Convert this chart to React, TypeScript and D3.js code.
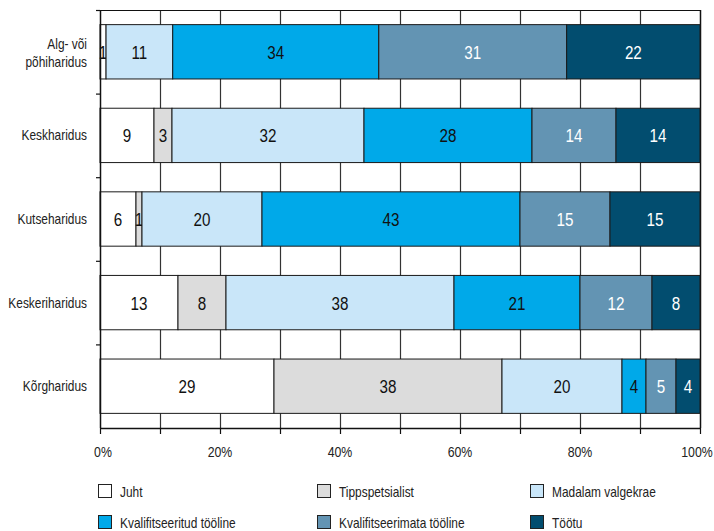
import React from "react";
import * as d3 from "d3";

const categories = ["Alg- või põhiharidus", "Keskharidus", "Kutseharidus", "Keskeriharidus", "Kõrgharidus"];
const seriesNames = [
  "Juht",
  "Tippspetsialist",
  "Madalam valgekrae",
  "Kvalifitseeritud tööline",
  "Kvalifitseerimata tööline",
  "Töötu",
];
const juht = [1, 9, 6, 13, 29];
const tippspetsialist = [0, 3, 1, 8, 38];
const madalam = [11, 32, 20, 38, 20];
const kvalifitseeritud = [34, 28, 43, 21, 4];
const kvalifitseerimata = [31, 14, 15, 12, 5];
const tootu = [22, 14, 15, 8, 4];
const xTicks = [0, 0.2, 0.4, 0.6, 0.8, 1];
const colors = ["#ffffff", "#dcdcdc", "#c9e6f9", "#00a9e9", "#6394b3", "#024d6f"];
const labelColors = ["#111", "#111", "#111", "#111", "#fff", "#fff"];

const FONT = "'Liberation Sans', Arial, sans-serif";

const W = 714;
const H = 531;
const margin = { top: 10, right: 14, bottom: 103, left: 100 };

// condensed text: the original uses a narrow face, so squeeze a regular one
const CText = ({ x, y, size, anchor = "start", fill = "#222", sx = 0.85, dy = "0", children }: any) => (
  <text
    transform={`translate(${x},${y}) scale(${sx},1)`}
    textAnchor={anchor}
    fontSize={size}
    fill={fill}
    dy={dy}
  >
    {children}
  </text>
);

export default function App() {
  const rows = categories.map((c, i) => ({
    cat: c,
    s0: juht[i],
    s1: tippspetsialist[i],
    s2: madalam[i],
    s3: kvalifitseeritud[i],
    s4: kvalifitseerimata[i],
    s5: tootu[i],
  }));
  const keys = ["s0", "s1", "s2", "s3", "s4", "s5"];
  const stacked = d3.stack<any>().keys(keys).offset(d3.stackOffsetExpand)(rows);

  const x = d3.scaleLinear().domain([0, 1]).range([margin.left, W - margin.right]);
  const y = d3
    .scaleBand()
    .domain(categories)
    .range([margin.top, H - margin.bottom])
    .paddingInner(0.35)
    .paddingOuter(0.175);
  const step = y.step();
  const bottom = H - margin.bottom;
  const grid = d3.range(1, 10).map((d) => d / 10);
  const minor = d3.range(0, 11).map((d) => d / 10);
  const boundaries = d3.range(0, categories.length).map((i) => margin.top + i * step);

  const legendCols = [98, 317, 530];
  const legendRows = [484, 515];

  return (
    <svg
      width={W}
      height={H}
      style={{ position: "absolute", left: 0, top: 0, background: "#fff" }}
      fontFamily={FONT}
    >
      {/* grid */}
      {grid.map((g) => (
        <line
          key={"g" + g}
          x1={Math.round(x(g)) + 0.5}
          x2={Math.round(x(g)) + 0.5}
          y1={margin.top}
          y2={bottom}
          stroke="#333"
          strokeWidth={1.2}
        />
      ))}
      <line x1={x(0)} x2={x(1)} y1={margin.top + 0.5} y2={margin.top + 0.5} stroke="#111" strokeWidth={1.2} />
      <line x1={x(1) + 0.5} x2={x(1) + 0.5} y1={margin.top} y2={bottom} stroke="#111" strokeWidth={1.5} />

      {/* bars */}
      {stacked.map((layer, li) => (
        <g key={li}>
          {layer.map((d, i) => {
            const v = (rows[i] as any)[keys[li]];
            if (!v) return null;
            const x0 = x(d[0]);
            const x1 = x(d[1]);
            const yy = y(categories[i]) as number;
            return (
              <g key={i}>
                <rect
                  x={x0}
                  y={yy}
                  width={x1 - x0}
                  height={y.bandwidth()}
                  fill={colors[li]}
                  stroke="#1a1a1a"
                  strokeWidth={1}
                />
                <CText
                  x={(x0 + x1) / 2}
                  y={yy + y.bandwidth() / 2 + 7}
                  anchor="middle"
                  size={19}
                  sx={0.8}
                  fill={labelColors[li]}
                >
                  {v}
                </CText>
              </g>
            );
          })}
        </g>
      ))}

      {/* axes */}
      <line x1={x(0) + 0.5} x2={x(0) + 0.5} y1={margin.top} y2={bottom} stroke="#111" strokeWidth={1.5} />
      <line x1={x(0)} x2={x(1) + 1} y1={bottom + 0.5} y2={bottom + 0.5} stroke="#111" strokeWidth={1.5} />
      {boundaries.map((b, i) => (
        <line key={"yt" + i} x1={x(0) - 4} x2={x(0)} y1={b + 0.5} y2={b + 0.5} stroke="#111" strokeWidth={1.2} />
      ))}
      {minor.map((m) => (
        <line
          key={"xt" + m}
          x1={Math.round(x(m)) + 0.5}
          x2={Math.round(x(m)) + 0.5}
          y1={bottom}
          y2={bottom + 6}
          stroke="#111"
          strokeWidth={1.2}
        />
      ))}
      {xTicks.map((t, i) => (
        <CText
          key={"xl" + t}
          x={x(t) + (i === 0 ? 3 : i === xTicks.length - 1 ? -3 : 0)}
          y={bottom + 29}
          anchor="middle"
          size={14}
          sx={0.88}
        >
          {d3.format(".0%")(t)}
        </CText>
      ))}

      {/* category labels */}
      {categories.map((c) => {
        const cy = (y(c) as number) + y.bandwidth() / 2;
        if (c === "Alg- või põhiharidus") {
          return (
            <g key={c}>
              <CText x={87} y={cy - 3} anchor="end" size={14}>
                Alg- või
              </CText>
              <CText x={87} y={cy + 15} anchor="end" size={14}>
                põhiharidus
              </CText>
            </g>
          );
        }
        return (
          <CText key={c} x={87} y={cy + 5} anchor="end" size={14}>
            {c}
          </CText>
        );
      })}

      {/* legend */}
      {seriesNames.map((s, i) => {
        const lx = legendCols[i % 3];
        const ly = legendRows[Math.floor(i / 3)];
        return (
          <g key={s}>
            <rect x={lx + 0.5} y={ly + 0.5} width={13} height={13} fill={colors[i]} stroke="#222" strokeWidth={1} />
            <CText x={lx + 22} y={ly + 12.5} size={14}>
              {s}
            </CText>
          </g>
        );
      })}
    </svg>
  );
}
